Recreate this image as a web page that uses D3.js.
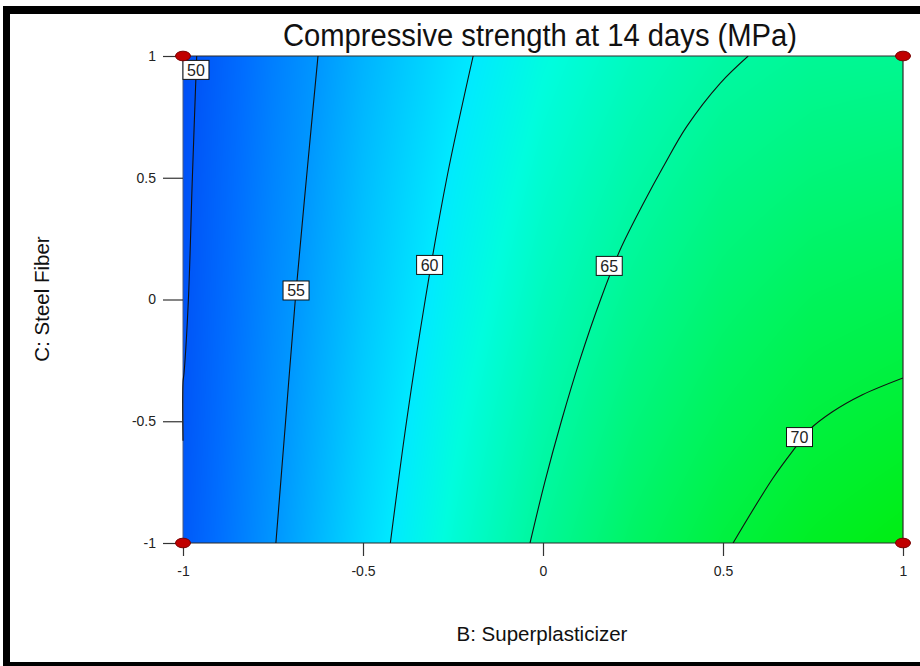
<!DOCTYPE html>
<html>
<head>
<meta charset="utf-8">
<script src="https://cdn.jsdelivr.net/npm/d3@7"></script>
<style>
  html, body { margin: 0; padding: 0; background: #fff; }
  svg { display: block; font-family: Arial, "Liberation Sans", sans-serif; }
</style>
</head>
<body>
<svg id="chart" width="920" height="666"></svg>
<script>
// Factor levels (coded units)
const bLevels = [-1, -0.75, -0.5, -0.25, 0, 0.25, 0.5, 0.75, 1];
const cLevels = [1, 0.5, 0, -0.5, -1];

// Predicted compressive strength at 14 days (MPa): rows follow cLevels, columns follow bLevels
const strengthGrid = [
  [49.3, 53.2, 56.6, 59.4, 61.8, 63.5, 64.8, 65.5, 65.7],
  [49.6, 53.6, 57.2, 60.2, 62.7, 64.6, 66.1, 66.9, 67.3],
  [49.8, 54.0, 57.7, 60.9, 63.6, 65.7, 67.3, 68.4, 68.9],
  [50.0, 54.4, 58.3, 61.7, 64.5, 66.8, 68.5, 69.8, 70.5],
  [50.3, 54.8, 58.9, 62.4, 65.4, 67.9, 69.8, 71.2, 72.1]
];

// Iso-strength contours, as [B, C] points
const contourLevels = [50, 55, 60, 65, 70];
const contour50 = [[-0.962, 1], [-0.974, 0.5], [-0.985, 0], [-0.997, -0.30], [-1, -0.34], [-1, -0.58]];
const contour55 = [[-0.625, 1], [-0.657, 0.5], [-0.688, 0], [-0.715, -0.5], [-0.742, -1]];
const contour60 = [[-0.194, 1], [-0.267, 0.5], [-0.327, 0], [-0.379, -0.5], [-0.424, -1]];
const contour65 = [[0.570, 1], [0.492, 0.888], [0.399, 0.710], [0.334, 0.545], [0.279, 0.395],
                   [0.214, 0.203], [0.160, 0], [0.102, -0.25], [0.051, -0.5], [0.005, -0.75], [-0.036, -1]];
const contour70 = [[1, -0.322], [0.886, -0.392], [0.803, -0.462], [0.739, -0.536], [0.705, -0.6],
                   [0.639, -0.733], [0.528, -1]];
const contourLines = [contour50, contour55, contour60, contour65, contour70];
// Where each level's value tag sits on its line
const contourLabelAt = [[-0.964, 0.943], [-0.686, 0.037], [-0.315, 0.142], [0.184, 0.138], [0.7125, -0.565]];

const tickValues = [-1, -0.5, 0, 0.5, 1];
const designPoints = [[-1, 1], [1, 1], [-1, -1], [1, -1]];

const titleText = "Compressive strength at 14 days (MPa)";
const xTitle = "B: Superplasticizer";
const yTitle = "C: Steel Fiber";

// ---- layout ----
const svg = d3.select("#chart");
const plot = { left: 183, right: 903, top: 56, bottom: 543 };
const x = d3.scaleLinear().domain([-1, 1]).range([plot.left, plot.right]);
const y = d3.scaleLinear().domain([-1, 1]).range([plot.bottom, plot.top]);

// colour ramp for strength
const rampValues = [49, 52, 55, 58, 60, 62, 65, 68, 72];
const rampColors = ["rgb(0,74,244)", "rgb(0,110,255)", "rgb(0,152,255)", "rgb(0,202,255)",
                    "rgb(0,234,255)", "rgb(0,253,222)", "rgb(0,248,160)", "rgb(0,244,98)", "rgb(0,238,20)"];
const color = d3.scaleLinear().domain(rampValues).range(rampColors).clamp(true);

svg.append("rect").attr("width", 920).attr("height", 666).attr("fill", "#fff");

// ---- shaded response surface ----
(function drawSurface() {
  const W = plot.right - plot.left, H = plot.bottom - plot.top;
  const cv = document.createElement("canvas");
  cv.width = W; cv.height = H;
  const ctx = cv.getContext("2d");
  const img = ctx.createImageData(W, H);
  // lookup table of colours
  const lutMin = 45, lutStep = 0.01, lutN = 3001;
  const lut = new Array(lutN);
  for (let i = 0; i < lutN; i++) {
    const c = d3.rgb(color(lutMin + i * lutStep));
    lut[i] = [c.r, c.g, c.b];
  }
  const nb = bLevels.length, nc = cLevels.length;
  for (let py = 0; py < H; py++) {
    const cVal = y.invert(plot.top + py + 0.5);
    let rf = (cLevels[0] - cVal) / (cLevels[0] - cLevels[nc - 1]) * (nc - 1);
    rf = Math.max(0, Math.min(nc - 1 - 1e-9, rf));
    const r0 = Math.floor(rf), tr = rf - r0;
    for (let px = 0; px < W; px++) {
      const bVal = x.invert(plot.left + px + 0.5);
      let cf = (bVal - bLevels[0]) / (bLevels[nb - 1] - bLevels[0]) * (nb - 1);
      cf = Math.max(0, Math.min(nb - 1 - 1e-9, cf));
      const c0 = Math.floor(cf), tc = cf - c0;
      const v00 = strengthGrid[r0][c0], v01 = strengthGrid[r0][c0 + 1];
      const v10 = strengthGrid[r0 + 1][c0], v11 = strengthGrid[r0 + 1][c0 + 1];
      const v = (v00 * (1 - tc) + v01 * tc) * (1 - tr) + (v10 * (1 - tc) + v11 * tc) * tr;
      let k = Math.round((v - lutMin) / lutStep);
      k = Math.max(0, Math.min(lutN - 1, k));
      const o = (py * W + px) * 4, c = lut[k];
      img.data[o] = c[0]; img.data[o + 1] = c[1]; img.data[o + 2] = c[2]; img.data[o + 3] = 255;
    }
  }
  ctx.putImageData(img, 0, 0);
  svg.append("image")
    .attr("x", plot.left).attr("y", plot.top)
    .attr("width", W).attr("height", H)
    .attr("preserveAspectRatio", "none")
    .attr("href", cv.toDataURL());
})();

svg.append("clipPath").attr("id", "plotClip")
  .append("rect")
  .attr("x", plot.left - 1).attr("y", plot.top)
  .attr("width", plot.right - plot.left + 1).attr("height", plot.bottom - plot.top);

// ---- plot frame: left edge is faint, the others dark ----
svg.append("line")
  .attr("x1", plot.left).attr("x2", plot.left).attr("y1", plot.top).attr("y2", plot.bottom)
  .attr("stroke", "#4a5a80").attr("stroke-width", 1);
svg.append("path")
  .attr("d", `M${plot.left},${plot.top}H${plot.right}V${plot.bottom}H${plot.left}`)
  .attr("fill", "none").attr("stroke", "#2a2a2a").attr("stroke-width", 1.2);

// ---- contour lines ----
const line = d3.line().x(d => x(d[0])).y(d => y(d[1])).curve(d3.curveCatmullRom.alpha(0.5));
svg.append("g").attr("clip-path", "url(#plotClip)")
  .selectAll("path").data(contourLines).join("path")
  .attr("d", line)
  .attr("fill", "none")
  .attr("stroke", "#111")
  .attr("stroke-width", 1.1);

// ---- contour value tags ----
const tags = svg.append("g").selectAll("g").data(contourLevels).join("g")
  .attr("transform", (d, i) => `translate(${x(contourLabelAt[i][0])},${y(contourLabelAt[i][1])})`);
tags.append("rect")
  .attr("x", -13).attr("y", -9.5).attr("width", 26).attr("height", 19)
  .attr("fill", "#fff").attr("stroke", "#111").attr("stroke-width", 1);
tags.append("text")
  .attr("text-anchor", "middle").attr("dy", "0.36em")
  .attr("font-size", 16).attr("fill", "#222")
  .text(d => d);

// ---- axes ----
const fmt = d => String(d);
const yAxis = svg.append("g").attr("transform", `translate(${plot.left},0)`)
  .call(d3.axisLeft(y).tickValues(tickValues).tickFormat(fmt).tickSize(20).tickPadding(7));
const xAxis = svg.append("g").attr("transform", `translate(0,${plot.bottom})`)
  .call(d3.axisBottom(x).tickValues(tickValues).tickFormat(fmt).tickSize(13).tickPadding(10));
[xAxis, yAxis].forEach(g => {
  g.select(".domain").remove();
  g.selectAll(".tick line").attr("stroke", "#333").attr("stroke-width", 1.2);
  g.selectAll(".tick text").attr("font-size", 14).attr("fill", "#222")
    .attr("font-family", "Arial, 'Liberation Sans', sans-serif");
});

// ---- design points ----
svg.append("g").selectAll("ellipse").data(designPoints).join("ellipse")
  .attr("cx", d => x(d[0])).attr("cy", d => y(d[1]))
  .attr("rx", 7.5).attr("ry", 4.8)
  .attr("fill", "#c00000").attr("stroke", "#7a0000").attr("stroke-width", 1);

// ---- titles ----
svg.append("text")
  .attr("x", 540).attr("y", 46)
  .attr("text-anchor", "middle").attr("font-size", 31).attr("fill", "#111")
  .attr("textLength", 514).attr("lengthAdjust", "spacingAndGlyphs")
  .text(titleText);
svg.append("text")
  .attr("x", 542).attr("y", 641)
  .attr("text-anchor", "middle").attr("font-size", 20.5).attr("fill", "#111")
  .text(xTitle);
svg.append("text")
  .attr("transform", "translate(49,299) rotate(-90)")
  .attr("text-anchor", "middle").attr("font-size", 20.5).attr("fill", "#111")
  .text(yTitle);

// ---- outer border ----
const border = svg.append("g").attr("fill", "#000");
border.append("rect").attr("x", 3).attr("y", 6).attr("width", 917).attr("height", 8);
border.append("rect").attr("x", 3).attr("y", 6).attr("width", 7).attr("height", 660);
border.append("rect").attr("x", 3).attr("y", 662).attr("width", 917).attr("height", 4);
</script>
</body>
</html>
